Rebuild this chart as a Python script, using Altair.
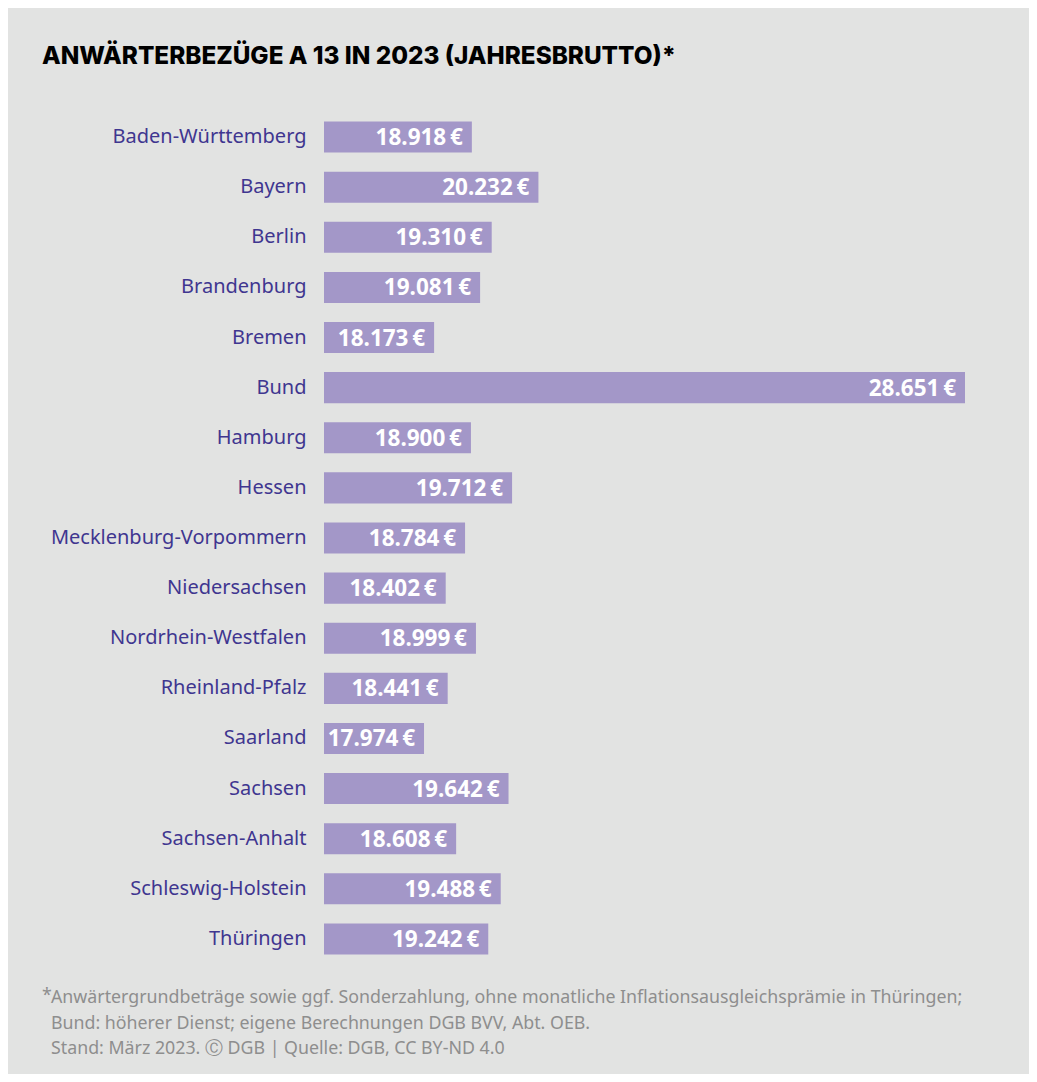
import altair as alt
import pandas as pd

states = ["Baden-Württemberg", "Bayern", "Berlin", "Brandenburg", "Bremen", "Bund",
          "Hamburg", "Hessen", "Mecklenburg-Vorpommern", "Niedersachsen",
          "Nordrhein-Westfalen", "Rheinland-Pfalz", "Saarland", "Sachsen",
          "Sachsen-Anhalt", "Schleswig-Holstein", "Thüringen"]
values = [18918, 20232, 19310, 19081, 18173, 28651, 18900, 19712, 18784, 18402,
          18999, 18441, 17974, 19642, 18608, 19488, 19242]

title_text = "ANWÄRTERBEZÜGE A 13 IN 2023 (JAHRESBRUTTO)*"
footnote_lines = [
    "Anwärtergrundbeträge sowie ggf. Sonderzahlung, ohne monatliche Inflationsausgleichsprämie in Thüringen;",
    "Bund: höherer Dienst; eigene Berechnungen DGB BVV, Abt. OEB.",
    "Stand: März 2023. \u24b8 DGB | Quelle: DGB, CC BY-ND 4.0",
]


def fmt(v):
    return f"{v:,}".replace(",", ".") + "\u2009€"


df = pd.DataFrame({"state": states, "value": values,
                   "label": [fmt(v) for v in values]})

BG = "#e2e3e2"
BAR = "#a397c8"
LABEL = "#3f3690"
FOOT = "#8e8e8e"

x_scale = alt.Scale(domain=[16000, 28651], nice=False, zero=False)
y_enc = alt.Y("state:N", sort=states,
              scale=alt.Scale(paddingInner=0.38, paddingOuter=0.19),
              axis=alt.Axis(title=None, domain=False, ticks=False, grid=False,
                            labelFont="Noto Sans", labelFontSize=20,
                            labelColor=LABEL, labelPadding=18, labelLimit=0))

base = alt.Chart(df)

bars = base.mark_bar(color=BAR).encode(
    y=y_enc,
    x=alt.X("value:Q", scale=x_scale, axis=None),
    x2=alt.datum(16000),
)

labels = base.mark_text(align="right", baseline="middle", dx=-9, dy=1, color="white",
                        font="Noto Sans", fontWeight="bold", fontSize=22.5).encode(
    y=alt.Y("state:N", sort=states),
    x=alt.X("value:Q", scale=x_scale),
    text="label:N",
)

foot_df = pd.DataFrame({"k": [0]})
star = alt.Chart(foot_df).mark_text(align="left", baseline="middle", color=FOOT,
                                    font="Noto Sans", fontSize=17.8, text="*").encode(
    x=alt.value(-282), y=alt.value(884))
foot = alt.Chart(foot_df).mark_text(align="left", baseline="middle", color=FOOT,
                                    font="Noto Sans", fontSize=17.8, lineHeight=25.5,
                                    text=footnote_lines).encode(
    x=alt.value(-273), y=alt.value(886))

chart = alt.layer(bars, labels, star, foot).properties(
    width=641,
    height=852,
    padding={"left": 316, "right": 64, "top": 104, "bottom": 110},
    autosize=alt.AutoSizeParams(type="none"),
    background=BG,
    title=alt.TitleParams(title_text, anchor="start", frame="group", dx=-282,
                          offset=24, baseline="alphabetic", font="Inter",
                          fontWeight=800, fontSize=24.3, color="#000000"),
).configure_view(stroke=None)

chart.save("out.html", embed_options={"renderer": "svg", "actions": False})
